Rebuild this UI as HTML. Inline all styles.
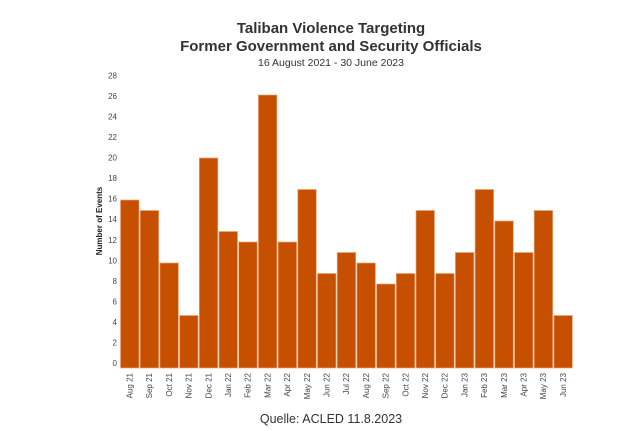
<!DOCTYPE html>
<html><head><meta charset="utf-8"><style>
body{margin:0;background:#fff;width:626px;height:431px;overflow:hidden}
svg{display:block;font-family:"Liberation Sans",sans-serif}
</style></head><body>
<svg width="626" height="431" viewBox="0 0 626 431">
<text x="331" y="33" text-anchor="middle" font-size="15" font-weight="bold" fill="#333">Taliban Violence Targeting</text>
<text x="331" y="51" text-anchor="middle" font-size="15" font-weight="bold" fill="#333">Former Government and Security Officials</text>
<text x="331" y="66" text-anchor="middle" font-size="10.5" fill="#333">16 August 2021 - 30 June 2023</text>
<g id="y" font-size="8" fill="#444" text-anchor="end"></g>
<text transform="translate(102,221) rotate(-90)" text-anchor="middle" font-size="8" font-weight="bold" fill="#222">Number of Events</text>
<g id="bars"></g>
<g id="xl" font-size="8" fill="#444"></g>
<text x="331" y="423" text-anchor="middle" font-size="12.5" fill="#333">Quelle: ACLED 11.8.2023</text>
</svg>
<script>
var d=[16,15,10,5,20,13,12,26,12,17,9,11,10,8,9,15,9,11,17,14,11,15,5];
var l=["Aug 21","Sep 21","Oct 21","Nov 21","Dec 21","Jan 22","Feb 22","Mar 22","Apr 22","May 22","Jun 22","Jul 22","Aug 22","Sep 22","Oct 22","Nov 22","Dec 22","Jan 23","Feb 23","Mar 23","Apr 23","May 23","Jun 23"];
var ns="http://www.w3.org/2000/svg";
function el(t,a,p,txt){var e=document.createElementNS(ns,t);for(var k in a)e.setAttribute(k,a[k]);if(txt!==undefined)e.textContent=txt;document.getElementById(p).appendChild(e);}
var y0=368,u=10.5;
for(var v=0;v<=28;v+=2)el("text",{x:117,y:(366-10.27*v).toFixed(1)},"y",String(v));
for(var i=0;i<d.length;i++){var x=120+i*19.7;
el("rect",{x:x+0.5,y:y0-u*d[i],width:18.5,height:u*d[i],fill:"#c75000",stroke:"#eaa57a","stroke-width":0.7},"bars");
el("text",{transform:"translate("+(x+12.5)+",373) rotate(-90)","text-anchor":"end"},"xl",l[i]);}
</script>
</body></html>
